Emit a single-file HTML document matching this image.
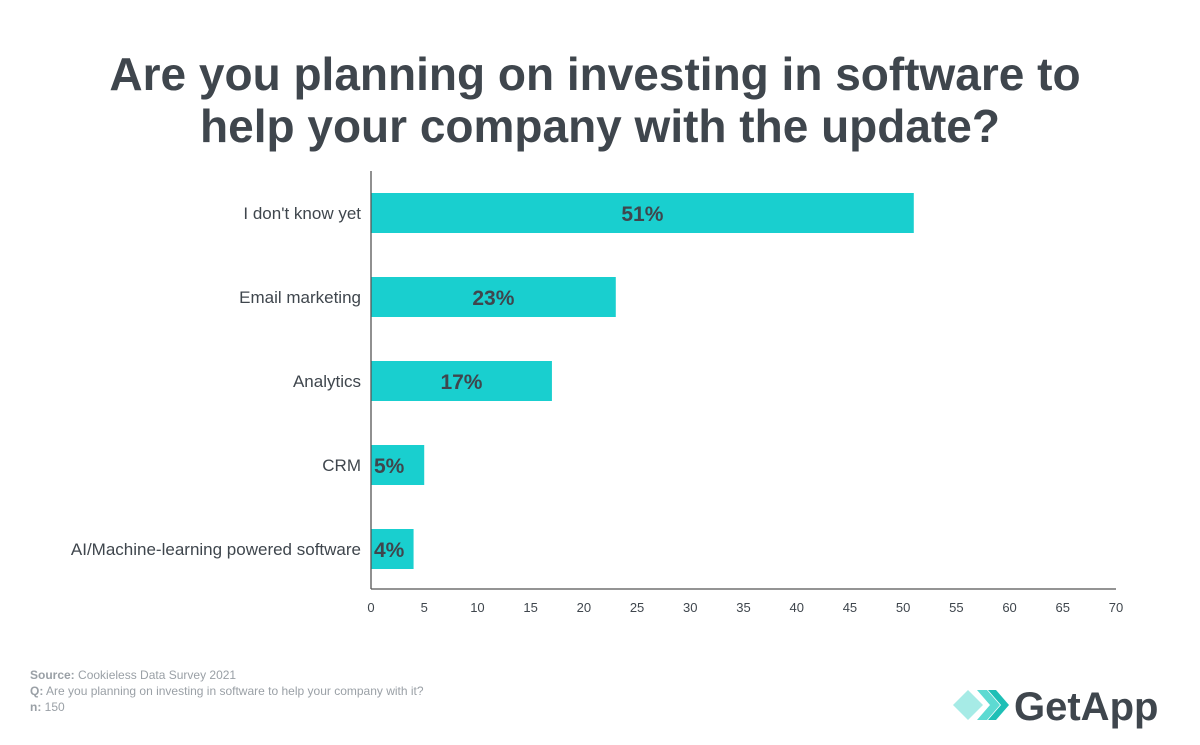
<!DOCTYPE html>
<html><head><meta charset="utf-8"><style>
body{margin:0;background:#fff;width:1200px;height:740px;overflow:hidden;font-family:"Liberation Sans",sans-serif;}
</style></head><body>
<svg width="1200" height="740">
<text x="595" y="90" text-anchor="middle" font-size="46" font-weight="bold" fill="#3f464d">Are you planning on investing in software to</text>
<text x="600" y="142" text-anchor="middle" font-size="46" font-weight="bold" fill="#3f464d">help your company with the update?</text>
<g id="plot"></g>
<text x="30" y="679" font-size="12" fill="#9aa0a6"><tspan font-weight="bold">Source:</tspan> Cookieless Data Survey 2021</text>
<text x="30" y="695" font-size="12" fill="#9aa0a6"><tspan font-weight="bold">Q:</tspan> Are you planning on investing in software to help your company with it?</text>
<text x="30" y="711" font-size="12" fill="#9aa0a6"><tspan font-weight="bold">n:</tspan> 150</text>
<g>
<polygon points="953,705 968,690 983,705 968,720" fill="#a6ebe6"/>
<polygon points="977,690 987,690 1000,705 987,720 977,720 990,705" fill="#5ddad2"/>
<polygon points="988,690 996,690 1009,705 996,720 988,720 1001,705" fill="#1fbfb6"/>
<text x="1014" y="720" font-size="40" font-weight="bold" fill="#3f464d">GetApp</text>
</g>
</svg>
<script>
const categories=["I don't know yet","Email marketing","Analytics","CRM","AI/Machine-learning powered software"];
const values=[51,23,17,5,4];
const ticks=[0,5,10,15,20,25,30,35,40,45,50,55,60,65,70];
const NS="http://www.w3.org/2000/svg";
const g=document.getElementById('plot');
const x0=371,x1=1116,yTop=171,yBot=589,band=84,barH=40,firstC=213;
const xs=v=>x0+(v-0)/(70-0)*(x1-x0);
const yc=i=>firstC+i*band;
function mk(t,a){const e=document.createElementNS(NS,t);for(const k in a)e.setAttribute(k,a[k]);g.appendChild(e);return e;}
categories.forEach((c,i)=>{
 const r=mk('rect',{x:xs(0),y:yc(i)-barH/2,width:xs(values[i])-xs(0),height:barH,fill:'#19cfcf'});
 
 
 const l=mk('text',{x:361,y:yc(i)+6,'text-anchor':'end','font-size':17,fill:'#3f464d'});l.textContent=c;
 
 
 const vx=values[i]<8?xs(0)+3:(xs(0)+xs(values[i]))/2;
 const v=mk('text',{x:vx,y:yc(i)+8,'text-anchor':values[i]<8?'start':'middle','font-size':21,'font-weight':'bold',fill:'#3f464d'});v.textContent=values[i]+'%';
 
 
});
const ax=mk('line',{x1:x0,x2:x0,y1:yTop,y2:yBot,stroke:'#555','stroke-width':1.3});


const bx=mk('line',{x1:x0,x2:x1,y1:yBot,y2:yBot,stroke:'#555','stroke-width':1.3});


ticks.forEach(t=>{
 const e=mk('text',{x:xs(t),y:612,'text-anchor':'middle','font-size':13,fill:'#3f464d'});e.textContent=t;
 
 
});
</script>
</body></html>
